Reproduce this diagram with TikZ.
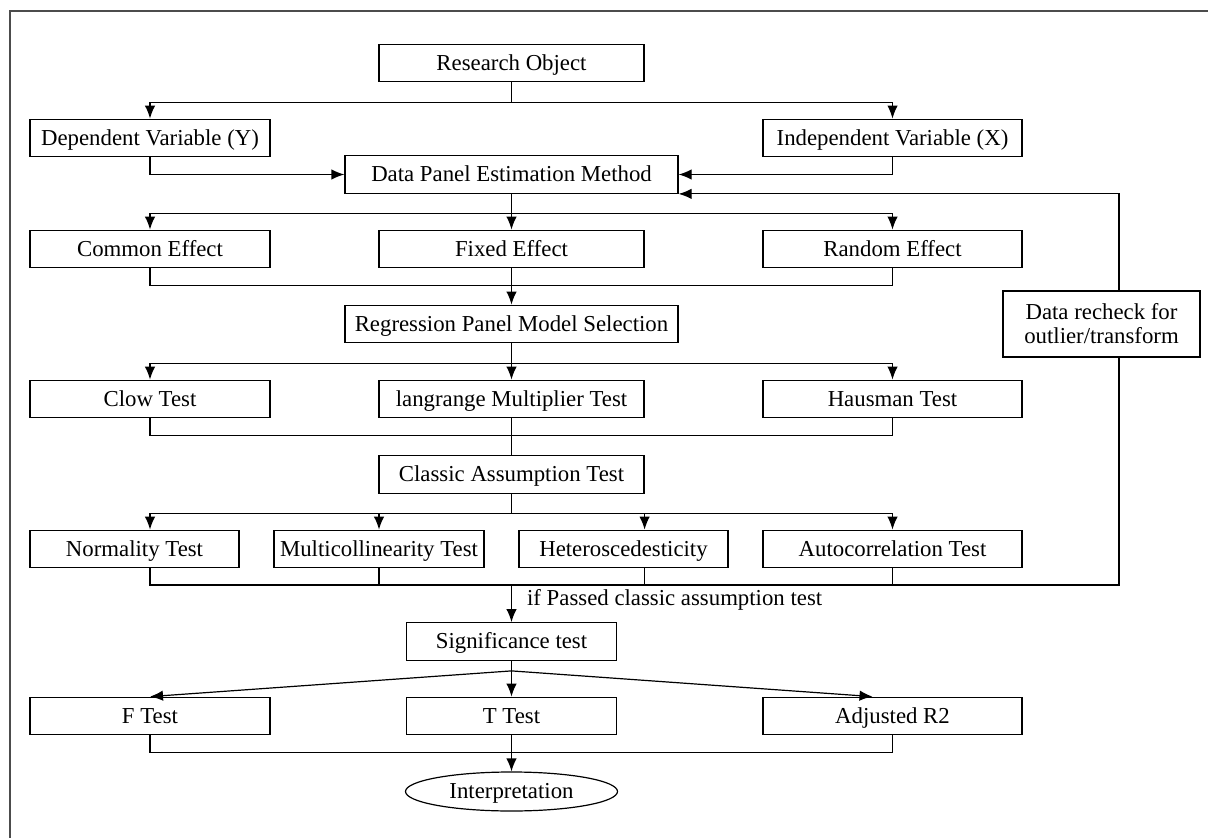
\documentclass[tikz,border=0pt]{standalone}
\usepackage{fontspec}
\setmainfont{Liberation Serif}
\usetikzlibrary{arrows.meta,shapes.geometric}
\tikzset{
  box/.style={draw,line width=0.6pt,minimum height=18.8pt,inner sep=1pt,text height=9.3pt,text depth=2pt},
  oval/.style={draw,ellipse,line width=0.6pt,minimum width=106pt,minimum height=19.5pt,inner sep=0pt,text height=9.3pt,text depth=2pt},
}
\begin{document}
\begin{tikzpicture}[x=0.5pt,y=-0.5pt,>={Latex[length=6.5pt,width=5.2pt]},line width=0.6pt,
  font=\fontsize{11.4}{12}\selectfont]
\useasboundingbox (0,0) rectangle (1208,838);
\draw[gray!60!black,line width=0.8pt] (10,838) -- (10,11) -- (1208,11);
% boxes
\node[box,minimum width=132.5pt](ro) at (511.5,63) {Research Object};
\node[box,minimum width=120pt](dep) at (150,138) {Dependent Variable (Y)};
\node[box,minimum width=129.5pt](indep) at (892.5,138) {Independent Variable (X)};
\node[box,minimum width=166.5pt](dpem) at (511.5,174.5) {Data Panel Estimation Method};
\node[box,minimum width=120pt](common) at (150,249) {Common Effect};
\node[box,minimum width=132.5pt](fixed) at (511.5,249) {Fixed Effect};
\node[box,minimum width=129.5pt](random) at (892.5,249) {Random Effect};
\node[box,minimum width=166.5pt](rpms) at (511.5,324) {Regression Panel Model Selection};
\node[draw,line width=0.6pt,minimum width=98.5pt,minimum height=33pt,align=center](recheck) at (1101.5,324) {Data recheck for\\outlier/transform};
\node[box,minimum width=120pt](clow) at (150,399) {Clow Test};
\node[box,minimum width=132.5pt](lm) at (511.5,399) {langrange Multiplier Test};
\node[box,minimum width=129.5pt](haus) at (892.5,399) {Hausman Test};
\node[box,minimum width=132.5pt](cat) at (511.5,474.5) {Classic Assumption Test};
\node[box,minimum width=104.5pt](norm) at (134.5,549) {Normality Test};
\node[box,minimum width=105pt](multi) at (379,549) {Multicollinearity Test};
\node[box,minimum width=104.5pt](hetero) at (623.5,549) {Heteroscedesticity};
\node[box,minimum width=129.5pt](auto) at (892.5,549) {Autocorrelation Test};
\node[box,minimum width=105pt](sig) at (511.5,641.5) {Significance test};
\node[box,minimum width=120pt](ftest) at (150,716) {F Test};
\node[box,minimum width=105pt](ttest) at (511.5,716) {T Test};
\node[box,minimum width=129.5pt](adjr) at (892.5,716) {Adjusted R2};
\node[oval](interp) at (511.5,791.5) {Interpretation};
\coordinate (fb) at (1119,585);
% connectors
\draw[->] (ro.south) -- ++(0,20) -| (dep);
\draw[->] (ro.south) -- ++(0,20) -| (indep);
\draw[->] (dep) |- (dpem);
\draw[->] (indep) |- (dpem);
\draw[->] (dpem.south) -- ++(0,20) -| (common);
\draw[->] (dpem) -- (fixed);
\draw[->] (dpem.south) -- ++(0,20) -| (random);
\draw (common.south) -- ++(0,17) -| (random.south);
\draw[->] (fixed) -- (rpms);
\draw[->] (rpms.south) -- ++(0,20) -| (clow);
\draw[->] (rpms) -- (lm);
\draw[->] (rpms.south) -- ++(0,20) -| (haus);
\draw (clow.south) -- ++(0,17) -| (haus.south);
\draw (lm) -- (cat);
\draw[->] (cat.south) -- ++(0,20) -| (dep |- norm.north);
\draw[->] (cat.south) -- ++(0,20) -| (multi);
\draw[->] (cat.south) -- ++(0,20) -| (cat.east |- hetero.north);
\draw[->] (cat.south) -- ++(0,20) -| (auto);
\draw (dep |- norm.south) -- (dep |- fb) -- (fb) -- (recheck.south -| fb);
\draw (multi) -- (multi |- fb);
\draw (cat.east |- hetero.south) -- (cat.east |- fb);
\draw (auto) -- (auto |- fb);
\draw[->] (recheck.north -| fb) |- (dpem.south east);
\draw[->] (sig |- fb) -- node[right,inner sep=0pt,xshift=7.5pt,pos=0.4]{if Passed classic assumption test} (sig);
\draw (sig.south) -- ++(0,10) coordinate (fan);
\draw[->] (fan) -- (ftest.north);
\draw[->] (fan) -- (ttest);
\draw[->] (fan) -- ([xshift=-10pt]adjr.north);
\draw (ftest.south) -- ++(0,17) -| (adjr.south);
\draw[->] (ttest) -- (interp);
\end{tikzpicture}
\end{document}
